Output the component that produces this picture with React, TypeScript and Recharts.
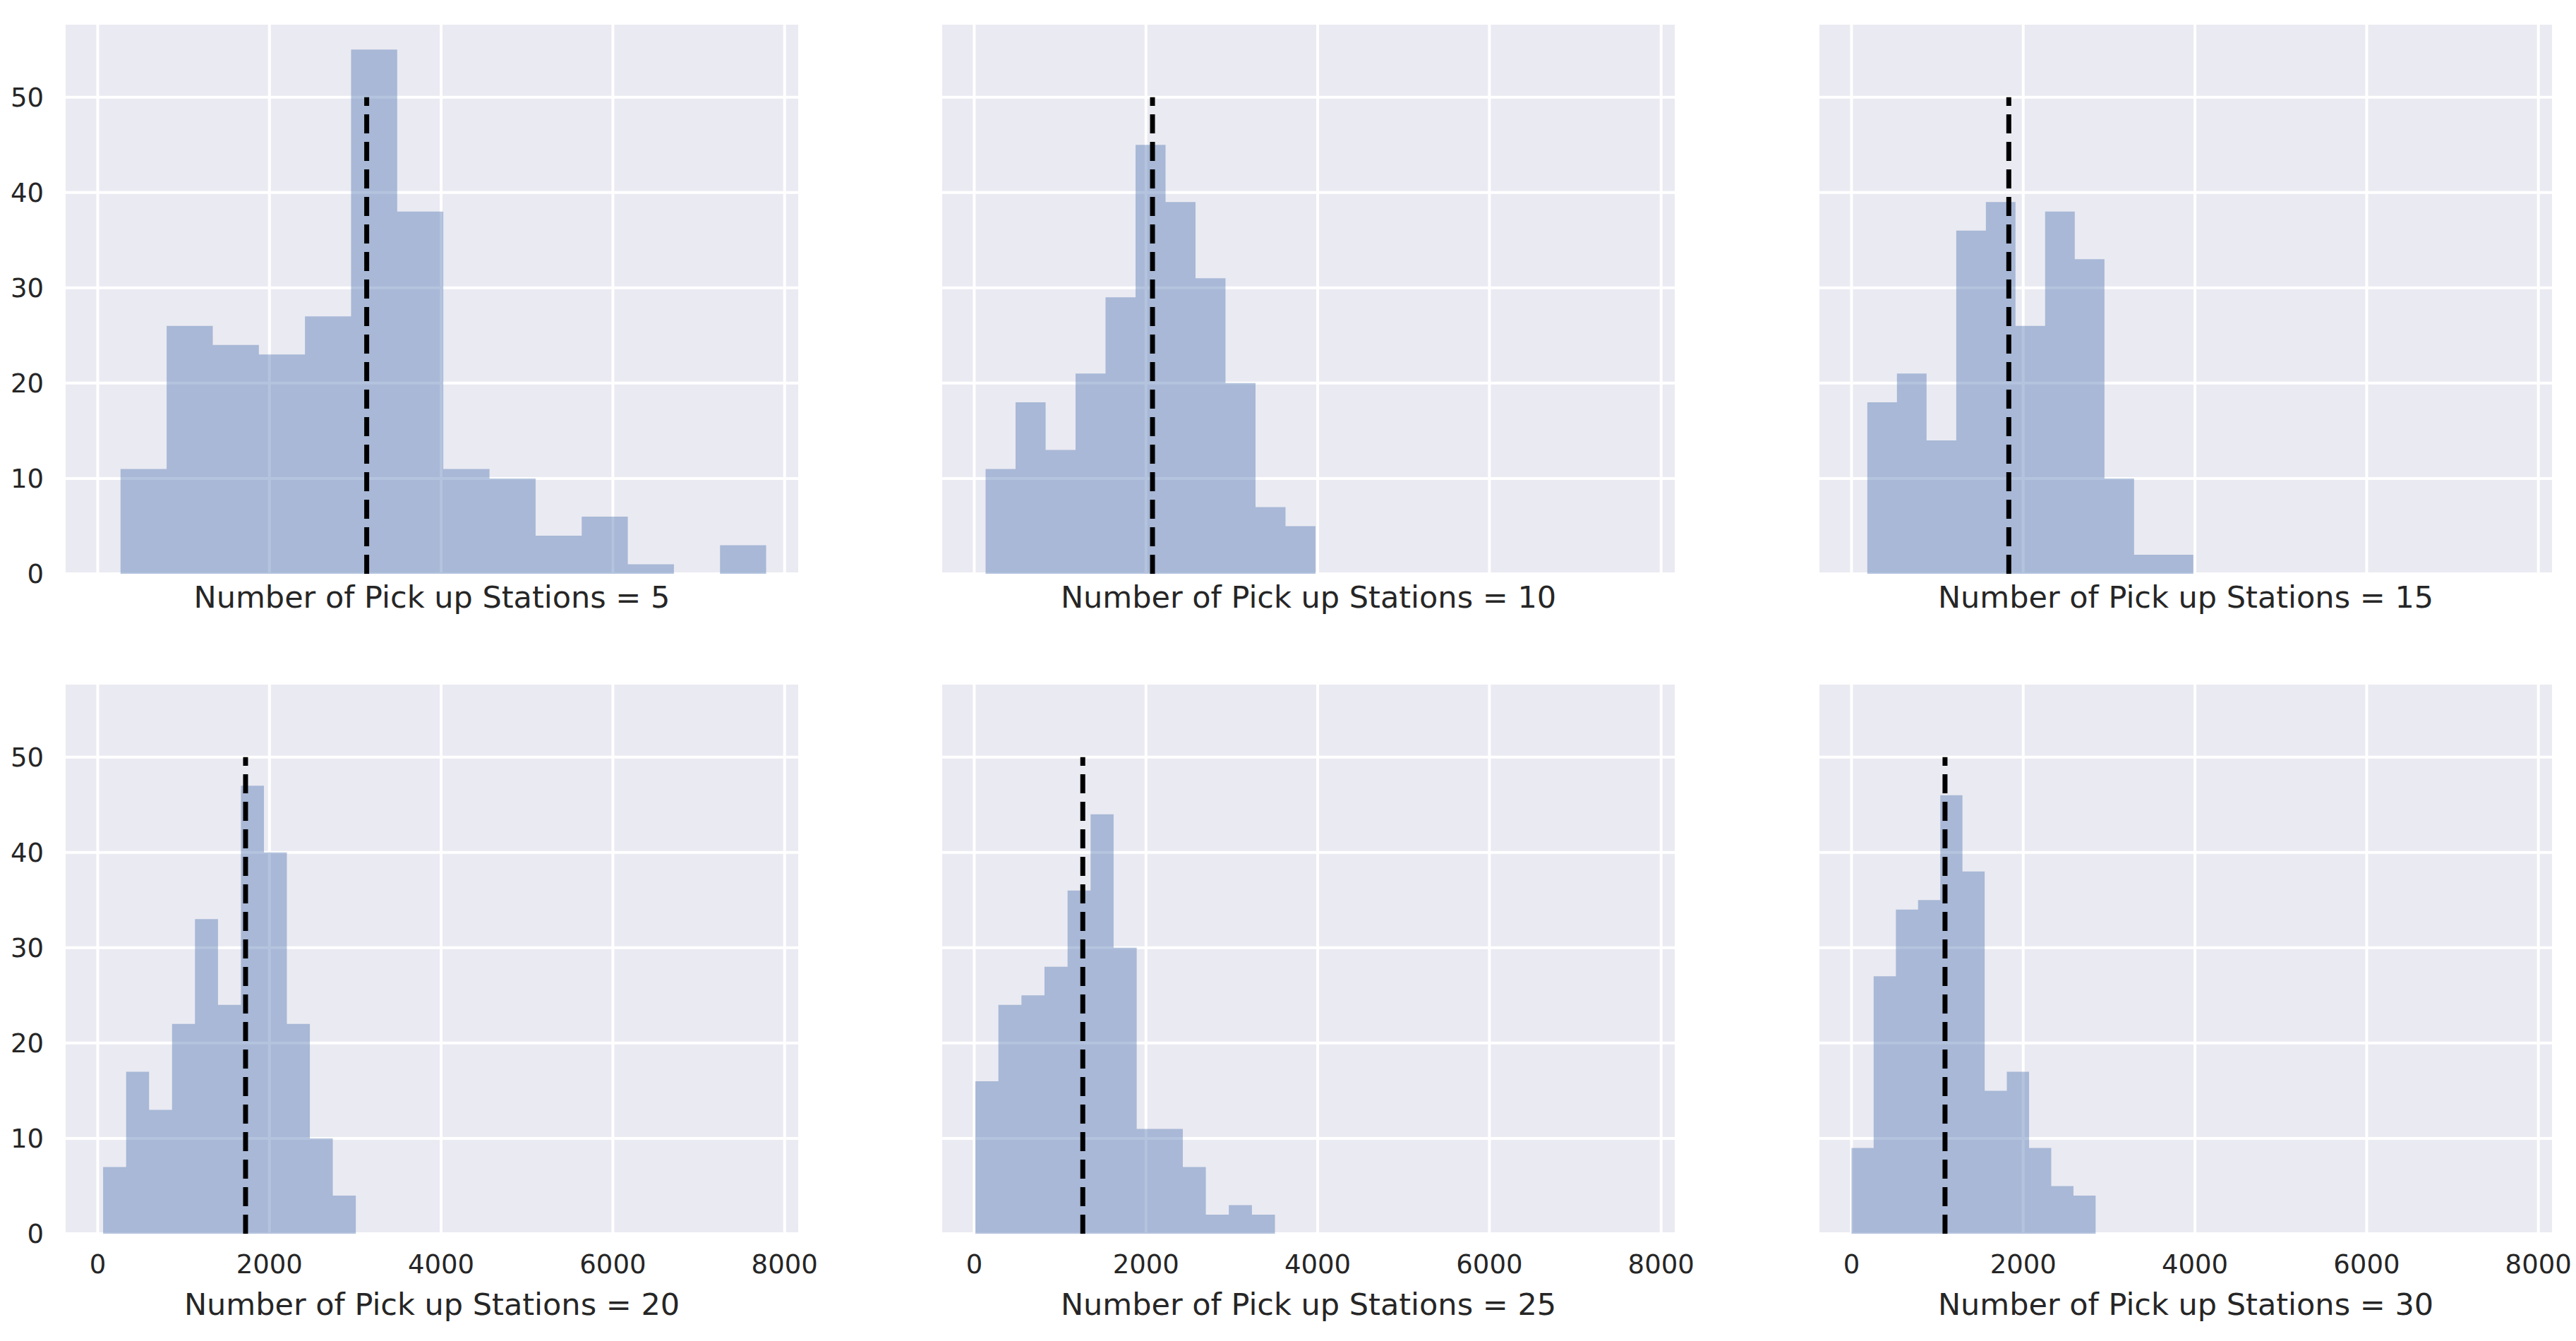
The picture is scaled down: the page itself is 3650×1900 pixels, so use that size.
import React from 'react';
import { ComposedChart, Area, XAxis, YAxis, CartesianGrid, ReferenceLine } from 'recharts';

// station counts shown under each panel
const STATIONS = [5, 10, 15, 20, 25, 30];

// histogram bin edges (x) and counts
const EDGES_5 = [266, 803, 1340, 1877, 2414, 2951, 3488, 4025, 4563, 5100, 5637, 6174, 6711, 7248, 7785];
const COUNTS_5 = [11, 26, 24, 23, 27, 55, 38, 11, 10, 4, 6, 1, 0, 3];

const EDGES_10 = [132, 481, 831, 1180, 1529, 1879, 2228, 2577, 2926, 3276, 3625, 3974];
const COUNTS_10 = [11, 18, 13, 21, 29, 45, 39, 31, 20, 7, 5];

const EDGES_15 = [184, 529, 874, 1220, 1565, 1910, 2255, 2600, 2946, 3291, 3636, 3981];
const COUNTS_15 = [18, 21, 14, 36, 39, 26, 38, 33, 10, 2, 2];

const EDGES_20 = [63, 331, 598, 866, 1133, 1401, 1668, 1936, 2203, 2471, 2738, 3006];
const COUNTS_20 = [7, 17, 13, 22, 33, 24, 47, 40, 22, 10, 4];

const EDGES_25 = [13, 281, 550, 818, 1087, 1355, 1623, 1892, 2160, 2429, 2697, 2965, 3234, 3502];
const COUNTS_25 = [16, 24, 25, 28, 36, 44, 30, 11, 11, 7, 2, 3, 2];

const EDGES_30 = [0, 258, 517, 775, 1034, 1292, 1551, 1809, 2068, 2326, 2585, 2843];
const COUNTS_30 = [9, 27, 34, 35, 46, 38, 15, 17, 9, 5, 4];

// mean of each distribution (dashed line), drawn up to MEAN_LINE_TOP
const MEANS = [3133, 2076, 1832, 1722, 1264, 1089];
const MEAN_LINE_TOP = 50;

const X_TICKS = [0, 2000, 4000, 6000, 8000];
const Y_TICKS = [0, 10, 20, 30, 40, 50];
const X_DOMAIN = [-390, 8175];
const Y_DOMAIN = [0, 57.75];

const ALL_EDGES = [EDGES_5, EDGES_10, EDGES_15, EDGES_20, EDGES_25, EDGES_30];
const ALL_COUNTS = [COUNTS_5, COUNTS_10, COUNTS_15, COUNTS_20, COUNTS_25, COUNTS_30];

// layout
const FONT = '"DejaVu Sans", sans-serif';
const TEXT = '#262626';
const PLOT_W = 1042;
const PLOT_H = 780;
const Y_AXIS_W = 91;
const COL_LEFT = [91, 1333, 2576];
const ROW_TOP = [33, 968];
const M_TOP = 10;
const M_RIGHT = 60;
const M_BOTTOM = 24;

const Panel = ({ idx }: { idx: number }) => {
    const col = idx % 3;
    const row = Math.floor(idx / 3);
    const edges = ALL_EDGES[idx];
    const counts = ALL_COUNTS[idx];
    const data = edges.map((x, i) => ({ x, count: i < counts.length ? counts[i] : 0 }));
    const mean = MEANS[idx];
    const xAxisH = row === 0 ? 48 : 115;
    const showX = row === 1;
    const showY = col === 0;

    return (
        <div
            style={{
                position: 'absolute',
                left: COL_LEFT[col] - Y_AXIS_W,
                top: ROW_TOP[row] - M_TOP,
            }}
        >
            <ComposedChart
                width={Y_AXIS_W + PLOT_W + M_RIGHT}
                height={M_TOP + PLOT_H + xAxisH + M_BOTTOM}
                data={data}
                margin={{ top: M_TOP, right: M_RIGHT, bottom: M_BOTTOM, left: 0 }}
            >
                <CartesianGrid fill="#EAEAF2" stroke="#ffffff" strokeWidth={4} />
                <XAxis
                    type="number"
                    dataKey="x"
                    domain={X_DOMAIN}
                    ticks={X_TICKS}
                    allowDataOverflow
                    axisLine={false}
                    tickLine={false}
                    tickSize={0}
                    tickMargin={30}
                    height={xAxisH}
                    tick={{ fill: TEXT, fontSize: 37, fontFamily: FONT }}
                    tickFormatter={(v) => (showX ? String(v) : '')}
                    label={{
                        value: `Number of Pick up Stations = ${STATIONS[idx]}`,
                        position: 'insideBottom',
                        offset: 0,
                        fill: TEXT,
                        fontSize: 43,
                        fontFamily: FONT,
                    }}
                />
                <YAxis
                    type="number"
                    domain={Y_DOMAIN}
                    ticks={Y_TICKS}
                    allowDataOverflow
                    axisLine={false}
                    tickLine={false}
                    tickSize={0}
                    tickMargin={29}
                    width={Y_AXIS_W}
                    tick={{ fill: TEXT, fontSize: 37, fontFamily: FONT }}
                    tickFormatter={(v) => (showY ? String(v) : '')}
                />
                <Area
                    type="stepAfter"
                    dataKey="count"
                    fill="#4C72B0"
                    fillOpacity={0.42}
                    stroke="none"
                    dot={false}
                    activeDot={false}
                    isAnimationActive={false}
                />
                <ReferenceLine
                    segment={[
                        { x: mean, y: 0 },
                        { x: mean, y: MEAN_LINE_TOP },
                    ]}
                    stroke="#000000"
                    strokeWidth={7}
                    strokeDasharray="27 12"
                />
            </ComposedChart>
        </div>
    );
};

export default function App() {
    return (
        <div
            style={{
                position: 'absolute',
                left: 0,
                top: 0,
                width: 3650,
                height: 1900,
                background: '#ffffff',
                fontFamily: FONT,
            }}
        >
            {STATIONS.map((_, i) => (
                <Panel key={i} idx={i} />
            ))}
        </div>
    );
}
